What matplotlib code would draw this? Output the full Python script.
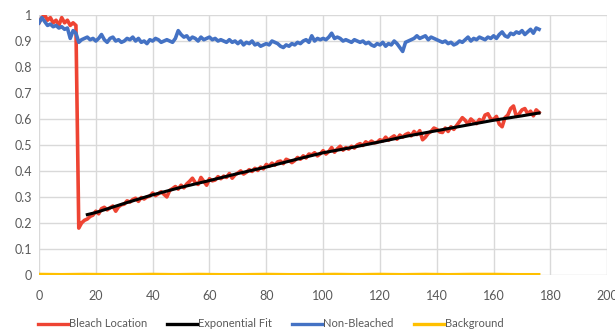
import matplotlib
matplotlib.use("Agg")
import matplotlib.pyplot as plt

# time points (s) for the measured traces
time = list(range(0, 177))

bleach_location = [
    0.97, 0.99, 1.00, 0.98, 0.99, 0.97, 0.98, 0.96, 0.99, 0.97,
    0.98, 0.96, 0.97, 0.96, 0.18, 0.20, 0.21, 0.215, 0.225, 0.23,
    0.245, 0.235, 0.255, 0.26, 0.25, 0.258, 0.265, 0.245, 0.262, 0.27,
    0.272, 0.285, 0.28, 0.29, 0.295, 0.283, 0.298, 0.292, 0.30, 0.303,
    0.315, 0.305, 0.312, 0.32, 0.31, 0.30, 0.325, 0.332, 0.34, 0.33,
    0.345, 0.335, 0.35, 0.36, 0.372, 0.355, 0.348, 0.375, 0.36, 0.345,
    0.37, 0.362, 0.365, 0.378, 0.37, 0.38, 0.375, 0.39, 0.372, 0.385,
    0.392, 0.40, 0.388, 0.395, 0.405, 0.398, 0.41, 0.402, 0.415, 0.408,
    0.425, 0.418, 0.43, 0.422, 0.435, 0.438, 0.428, 0.445, 0.44, 0.432,
    0.44, 0.452, 0.445, 0.458, 0.45, 0.465, 0.462, 0.47, 0.458, 0.466,
    0.478, 0.465, 0.475, 0.49, 0.472, 0.485, 0.495, 0.48, 0.49, 0.484,
    0.495, 0.488, 0.50, 0.505, 0.498, 0.512, 0.505, 0.515, 0.508, 0.51,
    0.52, 0.515, 0.53, 0.518, 0.528, 0.535, 0.522, 0.538, 0.53, 0.54,
    0.545, 0.535, 0.552, 0.54, 0.555, 0.52, 0.53, 0.545, 0.552, 0.565,
    0.56, 0.55, 0.548, 0.565, 0.552, 0.57, 0.56, 0.575, 0.59, 0.605,
    0.595, 0.58, 0.60, 0.59, 0.582, 0.598, 0.59, 0.615, 0.62, 0.60,
    0.598, 0.61, 0.58, 0.57, 0.605, 0.615, 0.64, 0.65, 0.61, 0.62,
    0.635, 0.64, 0.62, 0.63, 0.612, 0.635, 0.625,
]

non_bleached = [
    0.97, 0.99, 0.975, 0.96, 0.965, 0.955, 0.96, 0.95, 0.955, 0.945,
    0.95, 0.91, 0.94, 0.93, 0.895, 0.905, 0.91, 0.915, 0.905, 0.91,
    0.90, 0.91, 0.925, 0.905, 0.895, 0.91, 0.915, 0.90, 0.905, 0.895,
    0.90, 0.91, 0.905, 0.915, 0.90, 0.91, 0.895, 0.90, 0.89, 0.905,
    0.90, 0.91, 0.905, 0.895, 0.90, 0.905, 0.90, 0.895, 0.91, 0.94,
    0.925, 0.915, 0.92, 0.905, 0.915, 0.91, 0.90, 0.915, 0.905, 0.91,
    0.915, 0.905, 0.91, 0.90, 0.905, 0.90, 0.895, 0.905, 0.895, 0.90,
    0.89, 0.90, 0.885, 0.895, 0.89, 0.90, 0.885, 0.89, 0.88, 0.885,
    0.89, 0.885, 0.90, 0.895, 0.89, 0.88, 0.875, 0.885, 0.88, 0.89,
    0.885, 0.895, 0.89, 0.90, 0.905, 0.895, 0.92, 0.90, 0.91, 0.905,
    0.91, 0.905, 0.915, 0.93, 0.91, 0.915, 0.91, 0.90, 0.905, 0.90,
    0.895, 0.905, 0.90, 0.895, 0.90, 0.89, 0.895, 0.885, 0.88, 0.89,
    0.885, 0.895, 0.88, 0.89, 0.885, 0.90, 0.89, 0.875, 0.86, 0.895,
    0.90, 0.905, 0.91, 0.92, 0.91, 0.915, 0.92, 0.905, 0.915, 0.91,
    0.905, 0.90, 0.895, 0.90, 0.89, 0.895, 0.885, 0.89, 0.90, 0.895,
    0.905, 0.915, 0.90, 0.91, 0.905, 0.915, 0.91, 0.905, 0.915, 0.91,
    0.92, 0.91, 0.925, 0.935, 0.92, 0.915, 0.93, 0.925, 0.935, 0.93,
    0.94, 0.925, 0.935, 0.945, 0.93, 0.95, 0.945,
]

# exponential recovery fit, from t = 17 onwards
fit_time = [17, 20, 30, 40, 50, 60, 70, 80, 90, 100, 110, 120, 130, 140, 150, 160, 170, 176]
fit_values = [0.232, 0.24, 0.275, 0.308, 0.337, 0.363, 0.39, 0.415, 0.443, 0.47,
              0.49, 0.512, 0.535, 0.555, 0.575, 0.595, 0.612, 0.623]

bg_time = [0, 8, 16, 24, 32, 40, 48, 56, 64, 72, 80, 88, 96, 104, 112, 120,
           128, 136, 144, 152, 160, 168, 176]
background = [0.003, 0.002, 0.003, 0.002, 0.002, 0.003, 0.002, 0.003, 0.002, 0.002,
              0.003, 0.002, 0.002, 0.003, 0.002, 0.003, 0.002, 0.003, 0.002, 0.003,
              0.003, 0.002, 0.002]

plt.rcParams['font.family'] = ['Lato', 'DejaVu Sans']

fig = plt.figure(figsize=(6.15, 3.34), dpi=100)
ax = fig.add_axes([0.0634, 0.177, 0.924, 0.778])

ax.plot(time, bleach_location, color='#EE4433', lw=2.6, label='Bleach Location', zorder=3)
ax.plot(fit_time, fit_values, color='black', lw=2.2, label='Exponential Fit', zorder=4)
ax.plot(time, non_bleached, color='#4472C4', lw=2.6, label='Non-Bleached', zorder=3)
ax.plot(bg_time, background, color='#FFC000', lw=2.0, label='Background', zorder=3)

ax.set_xlim(0, 200)
ax.set_ylim(0, 1)
ax.set_xticks(range(0, 201, 20))
ax.set_yticks([i / 10 for i in range(11)])
ax.set_yticklabels(['0', '0.1', '0.2', '0.3', '0.4', '0.5', '0.6', '0.7', '0.8', '0.9', '1'])
ax.grid(True, color='#D9D9D9', lw=1)
ax.set_axisbelow(True)
for s in ax.spines.values():
    s.set_visible(False)
ax.tick_params(length=0, labelsize=9, labelcolor='#595959')
ax.tick_params(axis='x', pad=11)
ax.tick_params(axis='y', pad=5)

leg = fig.legend(loc='center', bbox_to_anchor=(0.44, 0.03), ncol=4, frameon=False,
                 fontsize=8, handlelength=2.7, handletextpad=0.1, columnspacing=1.8)
for t in leg.get_texts():
    t.set_color('#595959')
for h in leg.get_lines():
    h.set_linewidth(2.4)

fig.savefig('out.png', dpi=100)
